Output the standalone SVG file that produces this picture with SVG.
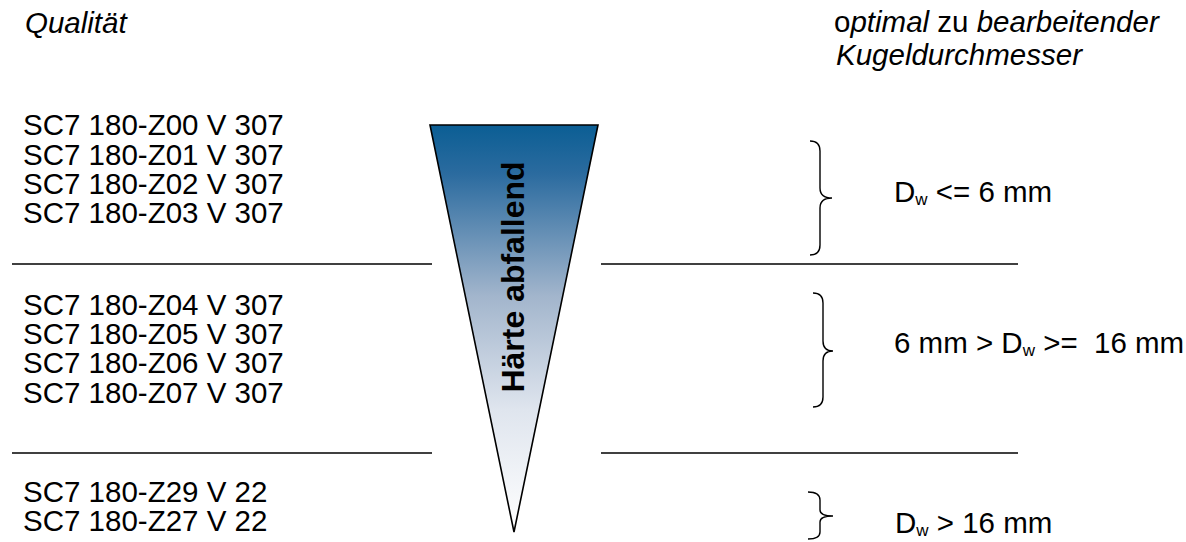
<svg xmlns="http://www.w3.org/2000/svg" width="1186" height="542" viewBox="0 0 1186 542">
<style>
text{font-family:"Liberation Sans",Arial,sans-serif;font-size:29.5px;fill:#000}
.it{font-style:italic}
.up{font-style:normal}
.sub{font-size:17px}
.line{stroke:#000;stroke-width:1.6;fill:none}
.brace{stroke:#000;stroke-width:1.4;fill:none}
.bold{font-weight:bold;font-size:32px}
</style>
<defs>
<linearGradient id="g" x1="0" y1="0" x2="0" y2="1">
<stop offset="0" stop-color="#0b5e94"/>
<stop offset="0.12" stop-color="#2b6b9f"/>
<stop offset="0.42" stop-color="#a2b5cc"/>
<stop offset="0.7" stop-color="#dfe5ee"/>
<stop offset="1" stop-color="#ffffff"/>
</linearGradient>
</defs>
<g id="headers">
<text class="it" x="25" y="33">Qualität</text>
<text class="it" x="834" y="32"><tspan class="up">o</tspan>ptimal <tspan class="up">zu</tspan> bearbeitender</text>
<text class="it" x="836" y="65">Kugeldurchmesser</text>
</g>
<g id="group1">
<text x="23" y="135">SC7 180-Z00 V 307</text>
<text x="23" y="165">SC7 180-Z01 V 307</text>
<text x="23" y="194">SC7 180-Z02 V 307</text>
<text x="23" y="223">SC7 180-Z03 V 307</text>
</g>
<g id="group2">
<text x="23" y="315">SC7 180-Z04 V 307</text>
<text x="23" y="344">SC7 180-Z05 V 307</text>
<text x="23" y="373">SC7 180-Z06 V 307</text>
<text x="23" y="403">SC7 180-Z07 V 307</text>
</g>
<g id="group3">
<text x="23" y="502">SC7 180-Z29 V 22</text>
<text x="23" y="531">SC7 180-Z27 V 22</text>
</g>
<g id="separators">
<line class="line" x1="12" y1="264" x2="432" y2="264"/>
<line class="line" x1="601" y1="264" x2="1018" y2="264"/>
<line class="line" x1="12" y1="453" x2="432" y2="453"/>
<line class="line" x1="601" y1="453" x2="1018" y2="453"/>
</g>
<g id="wedge">
<polygon points="430,125 598,125 514,532" fill="url(#g)" stroke="#000" stroke-width="1.6" stroke-linejoin="miter"/>
<text class="bold" text-anchor="middle" transform="translate(524,277) rotate(-90)">Härte abfallend</text>
</g>
<g id="braces">
<path class="brace" d="M810,141 Q820,141 820,151 L820,188 Q820,198 832,198 Q820,198 820,208 L820,245 Q820,255 810,255"/>
<path class="brace" d="M813,293 Q823,293 823,303 L823,341 Q823,351 833,351 Q823,351 823,361 L823,397 Q823,407 813,407"/>
<path class="brace" d="M808,492 Q820,492 820,500 L820,510 Q820,516 833,516 Q820,516 820,522 L820,532 Q820,539 808,539"/>
</g>
<g id="ranges">
<text x="894" y="202">D<tspan class="sub" dy="3">w</tspan><tspan dy="-3"> &lt;= 6 mm</tspan></text>
<text x="894" y="353" xml:space="preserve">6 mm &gt; D<tspan class="sub" dy="3">w</tspan><tspan dy="-3"> &gt;=  16 mm</tspan></text>
<text x="895" y="533">D<tspan class="sub" dy="3">w</tspan><tspan dy="-3"> &gt; 16 mm</tspan></text>
</g>
</svg>
